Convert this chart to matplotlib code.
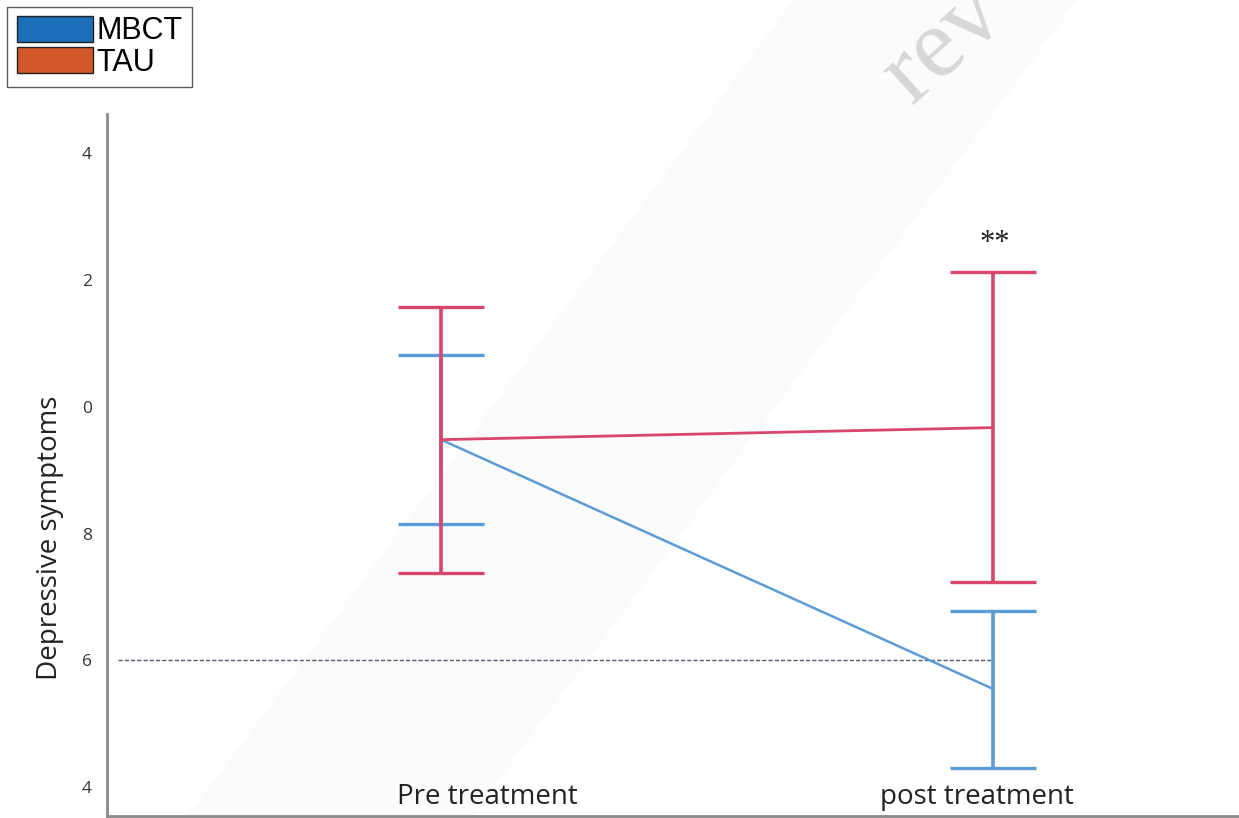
import matplotlib

matplotlib.use('Agg')
import matplotlib.pyplot as plt
from matplotlib.patches import Patch, Polygon

# Mean scores and confidence limits per group
timepoints = ['Pre treatment', 'post treatment']
x_pos = [0, 1]
mbct_mean = [9.48, 5.55]
mbct_low = [8.15, 4.30]
mbct_high = [10.81, 6.78]
tau_mean = [9.48, 9.67]
tau_low = [7.38, 7.24]
tau_high = [11.57, 12.12]
cutoff = 6.0
y_ticks = [4, 6, 8, 10, 12, 14]
y_tick_labels = ['4', '6', '8', '0', '2', '4']

blue = '#5b9bd8'
red = '#d9466c'

fig = plt.figure(figsize=(12.39, 8.18), dpi=100)

# very faint diagonal band behind everything
band = Polygon([[0.15, 0.0], [0.38, 0.0], [0.87, 1.0], [0.64, 1.0]],
               closed=True, transform=fig.transFigure, facecolor='#fbfbfb',
               edgecolor='none', zorder=-10)
fig.patches.append(band)

ax = fig.add_axes([0.0864, 0.002, 0.92, 0.859])
ax.patch.set_alpha(0)

ax.plot([-0.585, 1], [cutoff, cutoff], ls=(0, (3, 1.5)), color='#4f5b6e',
        lw=1.0, zorder=1)

def draw_group(mean, low, high, color, lw_mean):
    err = [[m - l for m, l in zip(mean, low)], [h - m for m, h in zip(mean, high)]]
    ax.errorbar(x_pos, mean, yerr=err, fmt='none', ecolor=color, elinewidth=2.6,
                capsize=31, capthick=2.4, zorder=3)
    ax.plot(x_pos, mean, color=color, lw=lw_mean, zorder=3)

draw_group(mbct_mean, mbct_low, mbct_high, blue, 1.8)
draw_group(tau_mean, tau_low, tau_high, red, 2.0)

ax.text(x_pos[1] + 0.003, tau_high[1] + 0.22, '**', ha='center', va='bottom',
        fontsize=22, family='Liberation Serif', color='#222222')

ax.set_xlim(-0.605, 1.46)
ax.set_ylim(3.54, 14.62)
ax.set_yticks(y_ticks)
ax.set_yticklabels(y_tick_labels, family='Open Sans', fontsize=12.5, color='#333333')
ax.tick_params(axis='y', length=0, pad=11)
ax.set_xticks([])

# category labels sit inside the plot, just above the bottom axis
label_x = [0.084, -0.03]
for x, lab, dx in zip(x_pos, timepoints, label_x):
    ax.text(x + dx, 3.62, lab, ha='center', va='bottom', fontsize=20,
            family='Open Sans', color='#222222')

ax.set_ylabel('Depressive symptoms', family='Open Sans', fontsize=20,
              color='#222222')
ax.yaxis.set_label_coords(-0.038, 0.396)

for side in ['top', 'right']:
    ax.spines[side].set_visible(False)
for side in ['left', 'bottom']:
    ax.spines[side].set_color('#8a8a8a')
    ax.spines[side].set_linewidth(2.0)

fig.text(0.762, 0.945, 'rev', rotation=42, fontsize=72, family='Liberation Serif',
         color='#d6d7d9', ha='center', va='center', zorder=-5)

handles = [Patch(facecolor='#1a6fb8', edgecolor='#222222', label='MBCT'),
           Patch(facecolor='#d0582a', edgecolor='#222222', label='TAU')]
leg = fig.legend(handles=handles, loc='upper left', bbox_to_anchor=(0.006, 0.992),
                 prop={'family': 'Liberation Sans', 'size': 22}, frameon=True,
                 fancybox=False, handlelength=2.5, handleheight=0.95,
                 handletextpad=0.12, borderpad=0.3, labelspacing=0.02,
                 borderaxespad=0)
leg.get_frame().set_edgecolor('#333333')
leg.get_frame().set_linewidth(1.0)

fig.savefig('out.png', dpi=100)
